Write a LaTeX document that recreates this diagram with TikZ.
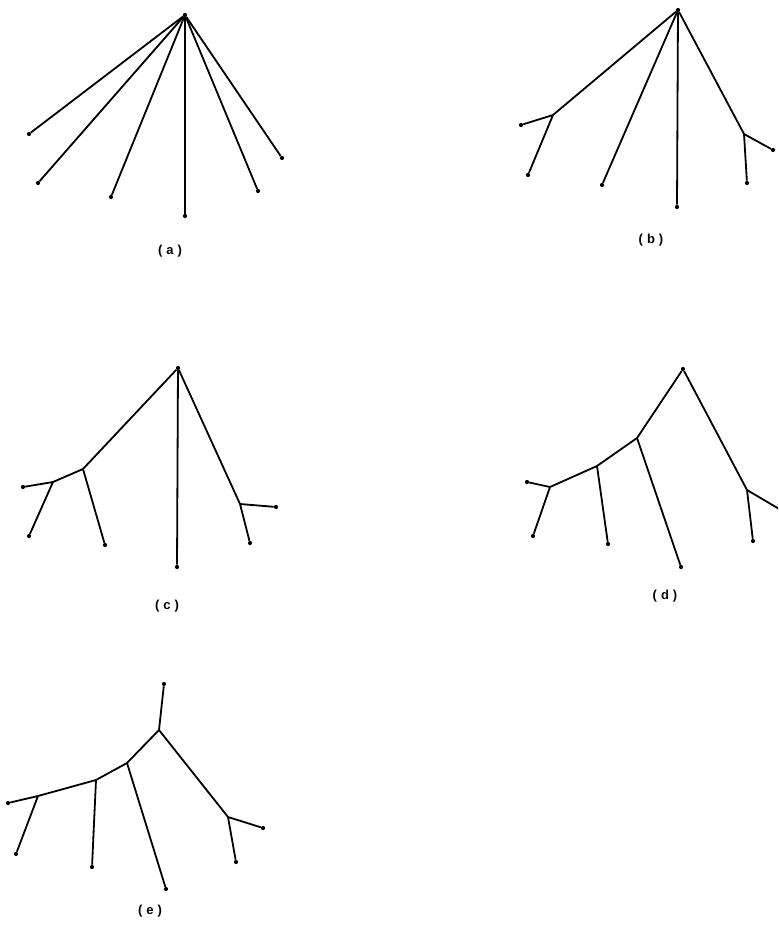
\documentclass[tikz,border=0pt]{standalone}
\usepackage{fontspec}
\setmainfont{Liberation Sans}
\usetikzlibrary{positioning}
\newcommand{\plabel}[1]{(\hspace{4pt}#1\hspace{4pt})}

\begin{document}
\begin{tikzpicture}[x=1pt,y=-1pt,
  tip/.style={circle,fill=black,inner sep=0pt,minimum size=4.2pt},
  edge/.style={line width=1.8pt,line join=round},
  tag/.style={font=\fontsize{13}{15}\selectfont\bfseries}]
  \useasboundingbox (0,0) rectangle (778,925);
  \clip (0,0) rectangle (778,925);

  % (a) star
  \node[tip] (a0) at (185,15) {};
  \foreach \i/\x/\y in {1/29/134,2/38/183,3/111/197,4/185/216,5/258/191,6/282/158} {
    \node[tip] (a\i) at (\x,\y) {};
    \draw[edge] (a0) -- (a\i);
  }
  \node[tag] (la) at (170,251) {\plabel{a}};

  % (b)
  \node[tip] (b0) at (678,10) {};
  \coordinate (bL) at (553,115);
  \coordinate (bR) at (744,134);
  \foreach \i/\x/\y in {1/521/125,2/528/175,3/602/185,4/677/207,5/747/183,6/773/150}
    \node[tip] (b\i) at (\x,\y) {};
  \draw[edge] (b0) -- (bL) -- (b1) (bL) -- (b2);
  \draw[edge] (b0) -- (b3) (b0) -- (b4);
  \draw[edge] (b0) -- (bR) -- (b5) (bR) -- (b6);
  \node[tag] (lb) at (651,240) {\plabel{b}};

  % (c)
  \node[tip] (c0) at (178,368) {};
  \coordinate (cA) at (83,469);
  \coordinate (cB) at (53,482);
  \coordinate (cR) at (240,504);
  \foreach \i/\x/\y in {1/23/487,2/29/536,3/105/545,4/177/567,5/250/543,6/276/507}
    \node[tip] (c\i) at (\x,\y) {};
  \draw[edge] (c0) -- (cA) -- (cB) -- (c1) (cB) -- (c2) (cA) -- (c3);
  \draw[edge] (c0) -- (c4);
  \draw[edge] (c0) -- (cR) -- (c5) (cR) -- (c6);
  \node[tag] (lc) at (167,606) {\plabel{c}};

  % (d)
  \node[tip] (d0) at (683,369) {};
  \coordinate (dA) at (637,438);
  \coordinate (dB) at (597,466);
  \coordinate (dC) at (550,487);
  \coordinate (dR) at (747,490);
  \foreach \i/\x/\y in {1/527/482,2/533/536,3/608/544,4/681/567,5/753/541,6/786/513}
    \node[tip] (d\i) at (\x,\y) {};
  \draw[edge] (d0) -- (dA) -- (dB) -- (dC) -- (d1) (dC) -- (d2);
  \draw[edge] (dB) -- (d3) (dA) -- (d4);
  \draw[edge] (d0) -- (dR) -- (d5) (dR) -- (d6);
  \node[tag] (ld) at (665,596) {\plabel{d}};

  % (e)
  \node[tip] (e0) at (164,684) {};
  \coordinate (eT) at (159,730);
  \coordinate (eA) at (127,763);
  \coordinate (eB) at (96,780);
  \coordinate (eC) at (38,796);
  \coordinate (eR) at (228,817);
  \foreach \i/\x/\y in {1/8/803,2/16/854,3/92/867,4/166/889,5/263/828,6/236/862}
    \node[tip] (e\i) at (\x,\y) {};
  \draw[edge] (e0) -- (eT) -- (eA) -- (eB) -- (eC) -- (e1) (eC) -- (e2);
  \draw[edge] (eB) -- (e3) (eA) -- (e4);
  \draw[edge] (eT) -- (eR) -- (e6) (eR) -- (e5);
  \node[tag] (le) at (150,911) {\plabel{e}};
\end{tikzpicture}
\end{document}
